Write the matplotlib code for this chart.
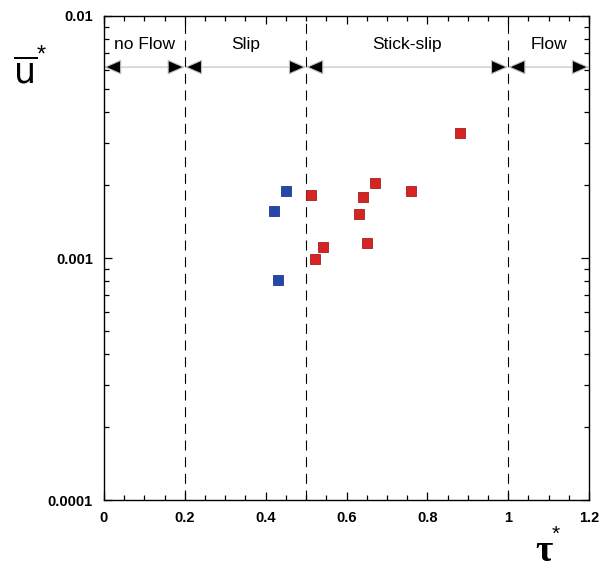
import numpy as np
import matplotlib
matplotlib.use("Agg")
import matplotlib.pyplot as plt
from matplotlib.ticker import MultipleLocator, FixedLocator, LogLocator, NullFormatter

plt.rcParams['font.family'] = ['Liberation Sans', 'DejaVu Sans']

# data
slip_tau = [0.45, 0.42, 0.431]
slip_u = [0.00189, 0.00157, 0.00081]
stick_tau = [0.881, 0.671, 0.760, 0.511, 0.641, 0.631, 0.651, 0.541, 0.521]
stick_u = [0.00327, 0.00205, 0.00189, 0.00182, 0.00179, 0.00152, 0.00115, 0.00111, 0.00099]

bounds = [0.0, 0.2, 0.5, 1.0, 1.2]
regimes = ["no Flow", "Slip", "Stick-slip", "Flow"]
arrow_y = 0.00615
label_y = 0.0076

fig = plt.figure(figsize=(6, 5.71), dpi=100)
ax = fig.add_axes([0.1733, 0.1243, 0.8084, 0.8477])

ax.set_xlim(0, 1.2)
ax.set_ylim(0.0001, 0.01)
ax.set_yscale('log')

for b in bounds[1:-1]:
    ax.axvline(b, color='k', lw=0.8, ls=(0, (9, 6)), zorder=1)

for i, name in enumerate(regimes):
    x0, x1 = bounds[i], bounds[i + 1]
    ax.annotate('', xy=(x0, arrow_y), xytext=(x1, arrow_y),
                arrowprops=dict(arrowstyle='<|-|>,head_length=0.55,head_width=0.24',
                                fc='k', ec='0.75', lw=0.8, shrinkA=0, shrinkB=0,
                                mutation_scale=20), zorder=2)
    ax.text((x0 + x1) / 2, label_y, name, ha='center', va='center', fontsize=12.5)

ax.plot(slip_tau, slip_u, 's', ms=7.5, mfc='#2447a8', mec='#1c3a8a', mew=0.6, zorder=3)
ax.plot(stick_tau, stick_u, 's', ms=7.5, mfc='#d42424', mec='#a81c1c', mew=0.6, zorder=3)

ax.xaxis.set_major_locator(FixedLocator([0, 0.2, 0.4, 0.6, 0.8, 1.0, 1.2]))
ax.xaxis.set_minor_locator(MultipleLocator(0.05))
ax.set_xticklabels(['0', '0.2', '0.4', '0.6', '0.8', '1', '1.2'])
ax.yaxis.set_major_locator(FixedLocator([0.0001, 0.001, 0.01]))
ax.set_yticklabels(['0.0001', '0.001', '0.01'])
ax.yaxis.set_minor_locator(LogLocator(base=10, subs=np.arange(2, 10)))
ax.yaxis.set_minor_formatter(NullFormatter())

ax.tick_params(which='both', direction='in', top=True, right=True, width=0.9)
ax.tick_params(which='major', length=6, labelsize=10.5, pad=8)
ax.tick_params(which='minor', length=3.5)
for lab in ax.get_xticklabels() + ax.get_yticklabels():
    lab.set_fontweight('bold')
for s in ax.spines.values():
    s.set_linewidth(1.0)

# axis labels
fig.text(0.042, 0.872, r'$\overline{\mathrm{u}}$', fontsize=25, ha='center', va='center')
fig.text(0.068, 0.903, '*', fontsize=17, ha='center', va='center')
fig.text(0.907, 0.034, 'τ', fontsize=27, ha='center', va='center',
         family='Liberation Serif', weight='bold')
fig.text(0.926, 0.064, '*', fontsize=15, ha='center', va='center')

fig.savefig('out.png', dpi=100)
